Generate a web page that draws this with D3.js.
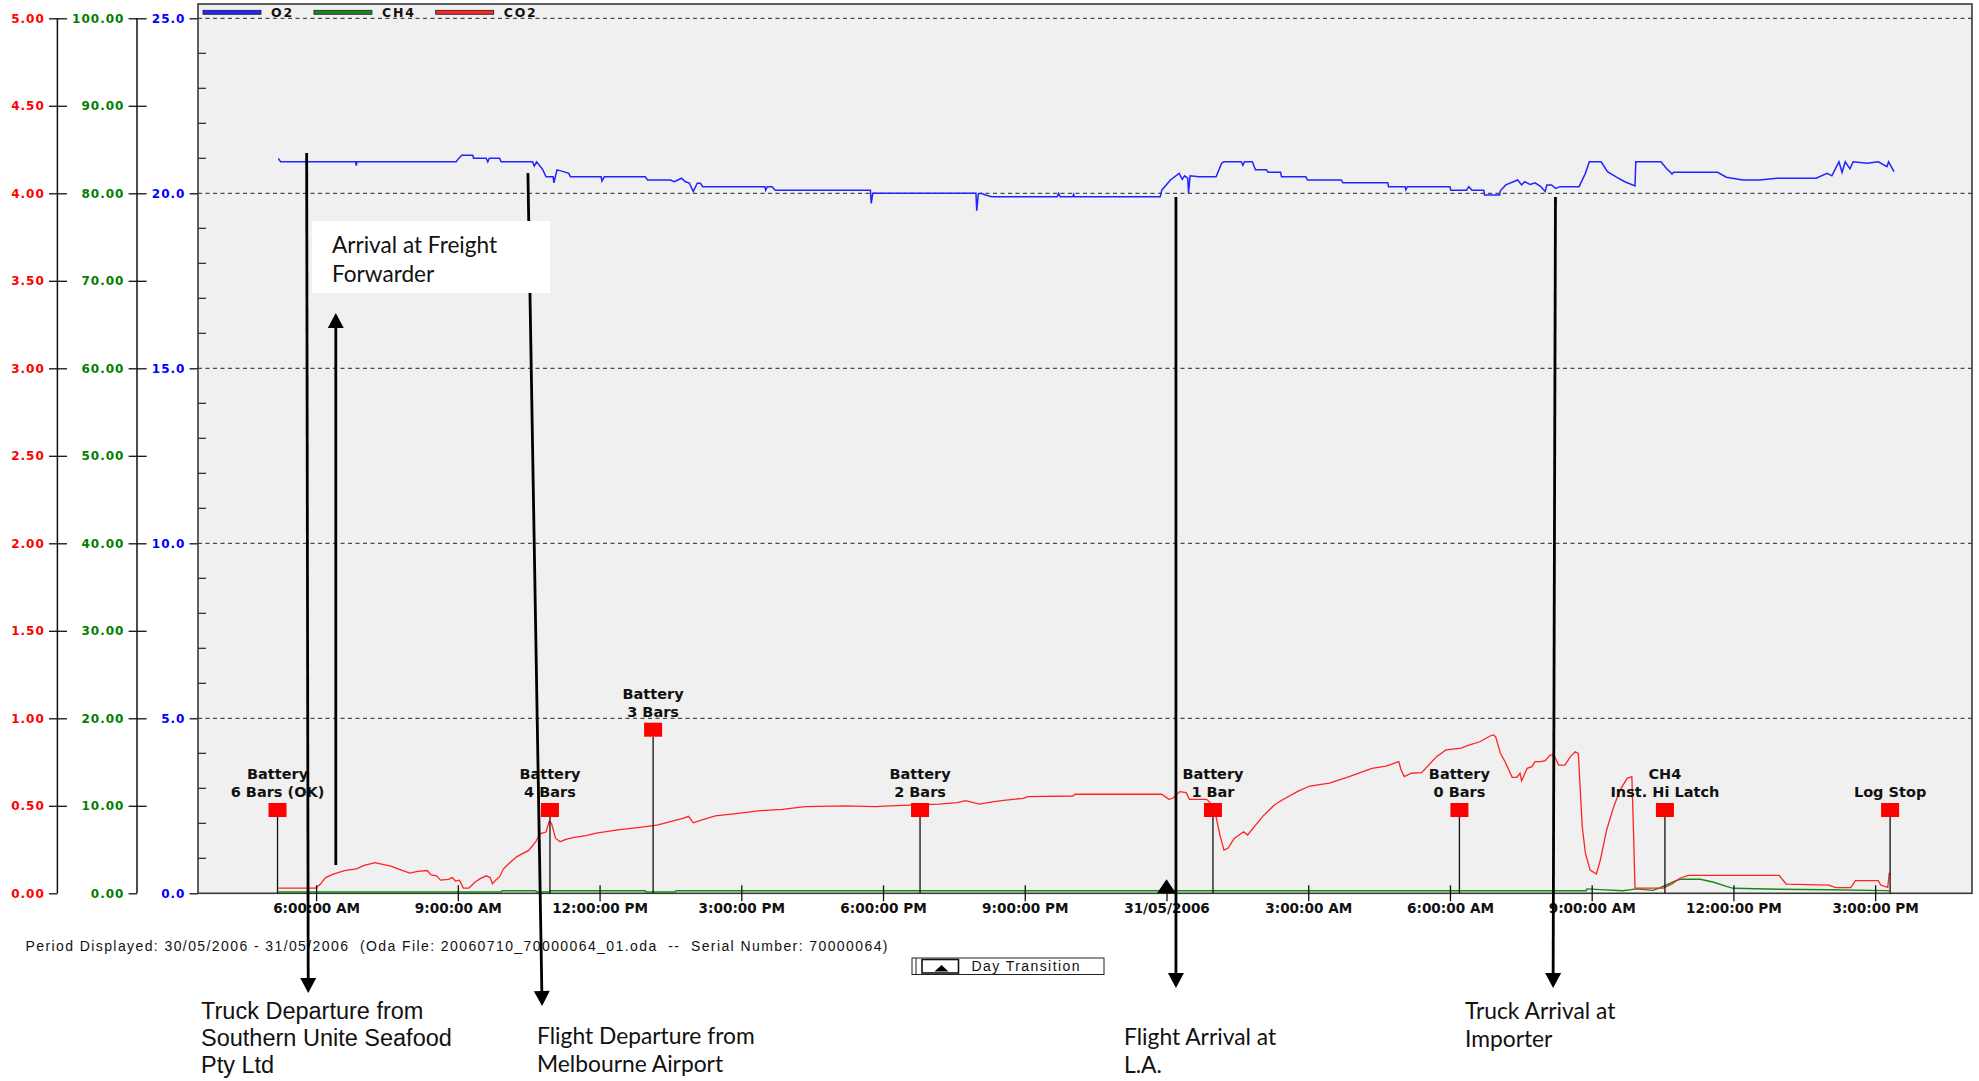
<!DOCTYPE html>
<html>
<head>
<meta charset="utf-8">
<script src="https://cdn.jsdelivr.net/npm/d3@7"></script>
<style>
  html, body { margin: 0; padding: 0; background: #fff; }
  svg { display: block; }
</style>
</head>
<body>
<svg id="chart" width="1979" height="1081"></svg>
<script>
// ---- Logger readings, 30/05/2006 – 31/05/2006 ("dd HH:MM", value) ----
const o2Series = [
  ["30 05:12",21.0],["30 05:15",20.9],["30 06:50",20.9],["30 06:51",20.79],["30 06:52",20.9],
  ["30 08:58",20.9],["30 09:00",20.97],["30 09:05",21.09],["30 09:19",21.09],["30 09:20",21.0],
  ["30 09:36",21.0],["30 09:38",20.9],["30 09:40",21.0],["30 09:53",21.0],["30 09:55",20.9],
  ["30 10:35",20.9],["30 10:37",20.78],["30 10:40",20.9],["30 10:48",20.67],["30 10:52",20.47],
  ["30 11:01",20.47],["30 11:02",20.3],["30 11:06",20.67],["30 11:14",20.62],["30 11:21",20.57],
  ["30 11:23",20.47],["30 12:02",20.47],["30 12:03",20.35],["30 12:06",20.47],["30 12:58",20.47],
  ["30 13:01",20.38],["30 13:30",20.38],["30 13:35",20.33],["30 13:44",20.43],["30 13:49",20.33],
  ["30 13:54",20.29],["30 13:59",20.05],["30 14:04",20.29],["30 14:08",20.29],["30 14:11",20.19],
  ["30 15:30",20.19],["30 15:31",20.09],["30 15:33",20.19],["30 15:39",20.19],["30 15:43",20.09],
  ["30 17:44",20.09],["30 17:45",19.71],["30 17:47",20.0],["30 19:58",20.0],["30 19:59",19.5],
  ["30 20:01",19.98],["30 20:05",20.0],["30 20:10",19.95],["30 20:18",19.9],["30 21:41",19.9],
  ["30 21:43",20.0],["30 21:45",19.9],["30 22:01",19.9],["30 22:02",19.97],["30 22:03",19.9],
  ["30 23:52",19.9],["30 23:54",20.09],["31 00:05",20.38],["31 00:16",20.57],["31 00:20",20.4],
  ["31 00:23",20.5],["31 00:27",20.43],["31 00:28",20.0],["31 00:30",20.5],["31 00:41",20.47],
  ["31 01:03",20.47],["31 01:10",20.86],["31 01:13",20.9],["31 01:35",20.9],["31 01:37",20.8],
  ["31 01:39",20.9],["31 01:49",20.9],["31 01:53",20.67],["31 02:07",20.67],["31 02:09",20.6],
  ["31 02:25",20.6],["31 02:26",20.47],["31 02:57",20.47],["31 02:59",20.38],["31 03:42",20.38],
  ["31 03:44",20.3],["31 04:41",20.3],["31 04:42",20.19],["31 05:03",20.19],["31 05:04",20.1],
  ["31 05:06",20.19],["31 06:00",20.19],["31 06:01",20.09],["31 06:21",20.09],["31 06:24",20.19],
  ["31 06:28",20.09],["31 06:43",20.09],["31 06:44",19.95],["31 07:03",19.95],["31 07:04",20.07],
  ["31 07:11",20.24],["31 07:26",20.38],["31 07:31",20.24],["31 07:35",20.33],["31 07:42",20.25],
  ["31 07:48",20.3],["31 07:55",20.2],["31 08:01",20.05],["31 08:03",20.24],["31 08:09",20.24],
  ["31 08:14",20.14],["31 08:20",20.19],["31 08:44",20.19],["31 08:52",20.57],["31 08:57",20.9],
  ["31 09:12",20.9],["31 09:20",20.62],["31 09:31",20.47],["31 09:42",20.33],["31 09:55",20.21],
  ["31 09:56",20.9],["31 10:28",20.9],["31 10:35",20.71],["31 10:40",20.6],["31 10:42",20.55],
  ["31 10:44",20.6],["31 11:40",20.6],["31 11:51",20.46],["31 12:12",20.38],["31 12:33",20.38],
  ["31 12:55",20.43],["31 13:45",20.43],["31 13:59",20.57],["31 14:05",20.5],["31 14:14",20.9],
  ["31 14:18",20.6],["31 14:22",20.9],["31 14:28",20.7],["31 14:32",20.9],["31 14:50",20.86],
  ["31 15:04",20.9],["31 15:15",20.76],["31 15:17",20.9],["31 15:24",20.62]
];

const ch4Series = [
  ["30 05:12",0.15],["30 09:55",0.15],["30 09:56",0.3],["30 10:39",0.3],["30 10:40",0.15],
  ["30 10:56",0.15],["30 10:57",0.3],["30 12:58",0.3],["30 12:59",0.15],["30 13:36",0.15],
  ["30 13:37",0.3],["31 08:53",0.3],["31 08:54",0.5],["31 09:11",0.42],["31 09:40",0.3],
  ["31 09:57",0.5],["31 10:18",0.34],["31 10:27",0.64],["31 10:35",0.95],["31 10:44",1.33],
  ["31 10:52",1.6],["31 11:18",1.6],["31 11:35",1.26],["31 11:52",0.76],["31 12:00",0.57],
  ["31 12:58",0.46],["31 14:01",0.4],["31 15:13",0.3],["31 15:18",0.3]
];

const co2Series = [
  ["30 05:12",0.03],["30 05:59",0.03],["30 06:05",0.05],["30 06:12",0.09],["30 06:22",0.11],
  ["30 06:36",0.13],["30 06:51",0.14],["30 07:01",0.16],["30 07:15",0.175],["30 07:20",0.17],
  ["30 07:35",0.155],["30 07:44",0.14],["30 07:59",0.115],["30 08:09",0.125],["30 08:21",0.13],
  ["30 08:26",0.105],["30 08:33",0.1],["30 08:38",0.075],["30 08:48",0.08],["30 08:53",0.09],
  ["30 08:57",0.07],["30 09:02",0.075],["30 09:07",0.03],["30 09:14",0.03],["30 09:22",0.065],
  ["30 09:29",0.085],["30 09:36",0.1],["30 09:41",0.09],["30 09:44",0.055],["30 09:48",0.075],
  ["30 09:53",0.095],["30 09:58",0.14],["30 10:05",0.17],["30 10:15",0.21],["30 10:30",0.245],
  ["30 10:39",0.295],["30 10:44",0.34],["30 10:52",0.35],["30 10:56",0.41],["30 10:59",0.4],
  ["30 11:04",0.315],["30 11:10",0.295],["30 11:18",0.31],["30 11:28",0.32],["30 11:43",0.33],
  ["30 11:54",0.343],["30 12:23",0.362],["30 12:51",0.377],["30 13:13",0.39],["30 13:30",0.41],
  ["30 13:47",0.43],["30 13:53",0.44],["30 13:59",0.403],["30 14:10",0.42],["30 14:27",0.442],
  ["30 14:56",0.457],["30 15:24",0.472],["30 15:52",0.48],["30 16:21",0.495],["30 17:12",0.5],
  ["30 17:51",0.495],["30 18:08",0.5],["30 19:11",0.51],["30 19:34",0.518],["30 19:45",0.53],
  ["30 20:02",0.51],["30 20:19",0.523],["30 20:36",0.533],["30 20:58",0.543],["30 21:04",0.552],
  ["30 22:01",0.556],["30 22:04",0.566],["30 23:54",0.566],["31 00:03",0.537],["31 00:08",0.543],
  ["31 00:17",0.581],["31 00:25",0.575],["31 00:29",0.537],["31 00:51",0.537],["31 00:55",0.52],
  ["31 01:02",0.457],["31 01:08",0.33],["31 01:13",0.247],["31 01:18",0.257],["31 01:26",0.314],
  ["31 01:38",0.352],["31 01:43",0.333],["31 02:02",0.438],["31 02:17",0.505],["31 02:27",0.533],
  ["31 02:46",0.581],["31 03:02",0.613],["31 03:27",0.629],["31 03:52",0.667],["31 04:21",0.714],
  ["31 04:39",0.727],["31 04:55",0.752],["31 04:58",0.705],["31 05:02",0.667],["31 05:11",0.686],
  ["31 05:24",0.689],["31 05:43",0.781],["31 05:55",0.819],["31 06:14",0.829],["31 06:24",0.847],
  ["31 06:38",0.866],["31 06:51",0.899],["31 06:55",0.905],["31 06:58",0.895],["31 07:04",0.8],
  ["31 07:10",0.752],["31 07:19",0.663],["31 07:25",0.663],["31 07:29",0.686],["31 07:31",0.643],
  ["31 07:38",0.714],["31 07:44",0.724],["31 07:48",0.752],["31 07:55",0.752],["31 08:01",0.758],
  ["31 08:07",0.79],["31 08:12",0.79],["31 08:18",0.733],["31 08:26",0.733],["31 08:33",0.781],
  ["31 08:39",0.809],["31 08:43",0.8],["31 08:48",0.381],["31 08:52",0.229],["31 08:58",0.133],
  ["31 09:06",0.11],["31 09:11",0.19],["31 09:19",0.362],["31 09:28",0.495],["31 09:36",0.59],
  ["31 09:45",0.657],["31 09:51",0.667],["31 09:53",0.371],["31 09:55",0.03],["31 10:31",0.03],
  ["31 10:42",0.053],["31 10:52",0.086],["31 11:03",0.103],["31 12:58",0.103],["31 13:07",0.053],
  ["31 14:01",0.047],["31 14:10",0.032],["31 14:29",0.032],["31 14:35",0.072],["31 15:04",0.072],
  ["31 15:07",0.047],["31 15:16",0.034],["31 15:18",0.118]
];

// Logger events (time, label lines, label row)
const eventTimes  = ["30 05:11","30 10:57","30 13:08","30 18:47","31 00:59","31 06:12","31 10:33","31 15:19"];
const eventLabels = [["Battery","6 Bars (OK)"],["Battery","4 Bars"],["Battery","3 Bars"],["Battery","2 Bars"],
                     ["Battery","1 Bar"],["Battery","0 Bars"],["CH4","Inst. Hi Latch"],["Log Stop"]];
const eventRows   = [0,0,1,0,0,0,0,0];

// Shipment milestones
const milestoneNames = [
  ["Truck Departure from","Southern Unite Seafood","Pty Ltd"],
  ["Arrival at Freight","Forwarder"],
  ["Flight Departure from","Melbourne Airport"],
  ["Flight Arrival at","L.A."],
  ["Truck Arrival at","Importer"]
];
const milestoneTimes = [["30 05:48","30 05:50"],["30 06:25","30 06:25"],["30 10:29","30 10:47"],
                        ["31 00:12","31 00:12"],["31 08:14","31 08:11"]];

// Axis ticks
const seriesNames = ["O2","CH4","CO2"];
const o2Ticks  = [0,5,10,15,20,25];
const co2Ticks = [0,0.5,1,1.5,2,2.5,3,3.5,4,4.5,5];
const ch4Ticks = [0,10,20,30,40,50,60,70,80,90,100];
const timeTicks = ["30 06:00","30 09:00","30 12:00","30 15:00","30 18:00","30 21:00",
                   "31 00:00","31 03:00","31 06:00","31 09:00","31 12:00","31 15:00"];
const timeDomain = ["30 03:30","31 17:03"];
const footerText = "Period Displayed: 30/05/2006 - 31/05/2006  (Oda File: 20060710_70000064_01.oda  --  Serial Number: 70000064)";
const dayTransitionText = "Day Transition";

// ---- Drawing ----
const parseRaw = d3.timeParse("%Y-%m-%d %H:%M");
const T = s => parseRaw("2006-05-" + s);

const P = { left: 198, right: 1972, top: 4, bottom: 893.3, valTop: 18.3 };
const colors = { O2: "#2323ff", CH4: "#138a13", CO2: "#ff2323" };
const axisFont = "'DejaVu Sans', Verdana, sans-serif";

const x = d3.scaleTime().domain(timeDomain.map(T)).range([P.left, P.right]);
const yO2  = d3.scaleLinear().domain([0, 25]).range([P.bottom, P.valTop]);
const yCO2 = d3.scaleLinear().domain([0, 5]).range([P.bottom, P.valTop]);
const yCH4 = d3.scaleLinear().domain([0, 100]).range([P.bottom, P.valTop]);

const svg = d3.select("#chart");

// plot area
svg.append("rect")
  .attr("x", P.left).attr("y", P.top)
  .attr("width", P.right - P.left).attr("height", P.bottom - P.top)
  .attr("fill", "#f0f0f0");

// dashed grid at every labelled O2 value
svg.append("g").selectAll("line").data(o2Ticks.filter(d => d > 0)).join("line")
  .attr("x1", P.left).attr("x2", P.right)
  .attr("y1", d => yO2(d)).attr("y2", d => yO2(d))
  .attr("stroke", "#222").attr("stroke-width", 1).attr("stroke-dasharray", "4,3.5");

// minor O2 ticks inside the plot edge
svg.append("g").selectAll("line").data(d3.range(1, 25).filter(d => d % 5 !== 0)).join("line")
  .attr("x1", P.left).attr("x2", P.left + 8)
  .attr("y1", d => yO2(d)).attr("y2", d => yO2(d))
  .attr("stroke", "#222").attr("stroke-width", 1.2);

// value axes: CO2 (red), CH4 (green), O2 (blue)
function valueAxis(scale, ticks, fmt, xPos, color, crossing) {
  const g = svg.append("g").attr("transform", `translate(${xPos},0)`)
    .call(d3.axisLeft(scale).tickValues(ticks).tickFormat(d3.format(fmt))
      .tickSize(8.4).tickPadding(4.2));
  g.select(".domain").remove();
  g.selectAll(".tick line").attr("stroke", "#111").attr("stroke-width", 1.3);
  g.selectAll(".tick text")
    .attr("fill", color)
    .style("font-family", axisFont).style("font-weight", "bold")
    .style("font-size", "12px").style("letter-spacing", "1px");
  if (crossing) {
    g.append("line").attr("x1", 0).attr("x2", 0)
      .attr("y1", scale.range()[1]).attr("y2", scale.range()[0])
      .attr("stroke", "#111").attr("stroke-width", 1.5);
    g.selectAll(".tick").filter(d => d > 0).append("line")
      .attr("x1", 0).attr("x2", 9.6).attr("stroke", "#111").attr("stroke-width", 1.3);
  }
  return g;
}
valueAxis(yCO2, co2Ticks, ".2f", 57.4, "#ff0000", true);
valueAxis(yCH4, ch4Ticks, ".2f", 137, "#008000", true);
valueAxis(yO2, o2Ticks, ".1f", P.left, "#0000ff", false);

// plot frame
svg.append("rect")
  .attr("x", P.left).attr("y", P.top)
  .attr("width", P.right - P.left).attr("height", P.bottom - P.top)
  .attr("fill", "none").attr("stroke", "#3a3a3a").attr("stroke-width", 1.6);

// series lines
const line = y => d3.line().x(d => x(T(d[0]))).y(d => y(d[1]));
svg.append("path").datum(ch4Series).attr("d", line(yCH4))
  .attr("fill", "none").attr("stroke", colors.CH4).attr("stroke-width", 1.4);
svg.append("path").datum(co2Series).attr("d", line(yCO2))
  .attr("fill", "none").attr("stroke", colors.CO2).attr("stroke-width", 1.3);
svg.append("path").datum(o2Series).attr("d", line(yO2))
  .attr("fill", "none").attr("stroke", colors.O2).attr("stroke-width", 1.5);

// time axis
const dayFmt = d3.timeFormat("%d/%m/%Y"), hourFmt = d3.timeFormat("%-I:%M:%S %p");
const gx = svg.append("g").attr("transform", `translate(0,${P.bottom})`)
  .call(d3.axisBottom(x).tickValues(timeTicks.map(T))
    .tickFormat(d => (d.getHours() === 0 ? dayFmt(d) : hourFmt(d)))
    .tickSize(8).tickPadding(2));
gx.select(".domain").remove();
gx.selectAll(".tick line").attr("y1", -8).attr("stroke", "#111").attr("stroke-width", 1.3);
gx.selectAll(".tick text")
  .attr("fill", "#111")
  .style("font-family", axisFont).style("font-weight", "bold").style("font-size", "13.6px");

// day transition marker on the axis
const midnight = timeTicks.map(T).filter(d => d.getHours() === 0);
svg.append("g").selectAll("path").data(midnight).join("path")
  .attr("d", d => `M${x(d) - 9.5},${P.bottom} L${x(d) + 9.5},${P.bottom} L${x(d)},${P.bottom - 14} Z`)
  .attr("fill", "#000");

// logger events
const events = eventTimes.map((t, i) => ({ t: T(t), lines: eventLabels[i], row: eventRows[i] }));
const rowTop = [803, 722.7];
const ev = svg.append("g").selectAll("g").data(events).join("g");
ev.append("line")
  .attr("x1", d => x(d.t)).attr("x2", d => x(d.t))
  .attr("y1", d => rowTop[d.row] + 14).attr("y2", P.bottom)
  .attr("stroke", "#111").attr("stroke-width", 1.3);
ev.append("rect")
  .attr("x", d => x(d.t) - 9).attr("y", d => rowTop[d.row])
  .attr("width", 18).attr("height", 14).attr("fill", "#ff0000");
ev.each(function (d) {
  const n = d.lines.length;
  d3.select(this).selectAll("text").data(d.lines).join("text")
    .attr("x", x(d.t))
    .attr("y", (s, j) => rowTop[d.row] - 6 - (n - 1 - j) * 18)
    .attr("text-anchor", "middle")
    .attr("fill", "#111")
    .style("font-family", axisFont).style("font-weight", "bold").style("font-size", "14.5px")
    .text(s => s);
});

// legend
const lg = svg.append("g");
let lx = 203;
seriesNames.forEach(name => {
  lg.append("rect").attr("x", lx).attr("y", 10.3).attr("width", 58).attr("height", 4)
    .attr("fill", colors[name]).attr("stroke", "#222").attr("stroke-width", 0.8);
  const t = lg.append("text").attr("x", lx + 68).attr("y", 17)
    .attr("fill", "#111")
    .style("font-family", axisFont).style("font-weight", "bold")
    .style("font-size", "12.5px").style("letter-spacing", "1.8px")
    .text(name);
  lx += 68 + t.node().getComputedTextLength() + 20;
});

// footer
svg.append("text").attr("x", 25.5).attr("y", 950.5)
  .attr("textLength", 862).attr("lengthAdjust", "spacing")
  .style("white-space", "pre")
  .style("font-family", "'Liberation Sans', Arial, sans-serif").style("font-size", "14px")
  .attr("fill", "#111").text(footerText);

// day transition key
const key = svg.append("g");
key.append("rect").attr("x", 912).attr("y", 958).attr("width", 192).attr("height", 16.5)
  .attr("fill", "#fff").attr("stroke", "#222").attr("stroke-width", 1);
key.append("line").attr("x1", 916).attr("x2", 916).attr("y1", 958).attr("y2", 974.5)
  .attr("stroke", "#222").attr("stroke-width", 1);
key.append("rect").attr("x", 922).attr("y", 959.5).attr("width", 36.5).attr("height", 13.5)
  .attr("fill", "#fff").attr("stroke", "#111").attr("stroke-width", 1.6);
key.append("path").attr("d", "M934.5,971.5 L948.5,971.5 L941.5,965 Z").attr("fill", "#000");
key.append("text").attr("x", 971.5).attr("y", 971)
  .attr("textLength", 108).attr("lengthAdjust", "spacing")
  .style("font-family", "'Liberation Sans', Arial, sans-serif").style("font-size", "14px")
  .attr("fill", "#111").text(dayTransitionText);

// shipment milestones: arrows and captions
function arrow(g, x1, y1, x2, y2, hl, hw) {
  const dx = x2 - x1, dy = y2 - y1, len = Math.hypot(dx, dy);
  const ux = dx / len, uy = dy / len;
  const bx = x2 - ux * hl, by = y2 - uy * hl;
  g.append("line").attr("x1", x1).attr("y1", y1).attr("x2", bx + ux).attr("y2", by + uy)
    .attr("stroke", "#000").attr("stroke-width", 2.8);
  g.append("path")
    .attr("d", `M${x2},${y2} L${bx - uy * hw / 2},${by + ux * hw / 2} L${bx + uy * hw / 2},${by - ux * hw / 2} Z`)
    .attr("fill", "#000");
}
const ann = svg.append("g");
const arrowEnds = [[153, 993], [865, 313], [173, 1006], [197, 988], [197, 988]];
milestoneTimes.forEach((tt, i) => {
  arrow(ann, x(T(tt[0])), arrowEnds[i][0], x(T(tt[1])), arrowEnds[i][1], 15, 16);
});

// caption box inside the plot
ann.append("rect").attr("x", 312).attr("y", 221).attr("width", 238).attr("height", 72).attr("fill", "#fff");

const captionStyle = [
  { x: 201, y: 1018.5, font: "'Liberation Sans', Arial, sans-serif", size: 23.5 },
  { x: 332, y: 253, font: "Lato, 'Open Sans', sans-serif", size: 22.6 },
  { x: 537, y: 1044, font: "Lato, 'Open Sans', sans-serif", size: 22.8 },
  { x: 1124, y: 1045, font: "Lato, 'Open Sans', sans-serif", size: 22.8 },
  { x: 1465, y: 1019, font: "Lato, 'Open Sans', sans-serif", size: 22.8 }
];
const lineGap = [27, 29, 27.5, 28, 28];
milestoneNames.forEach((lines, i) => {
  const c = captionStyle[i];
  ann.append("g").selectAll("text").data(lines).join("text")
    .attr("x", c.x).attr("y", (s, j) => c.y + j * lineGap[i])
    .attr("fill", "#111")
    .style("font-family", c.font).style("font-size", c.size + "px")
    .text(s => s);
});
</script>
</body>
</html>
